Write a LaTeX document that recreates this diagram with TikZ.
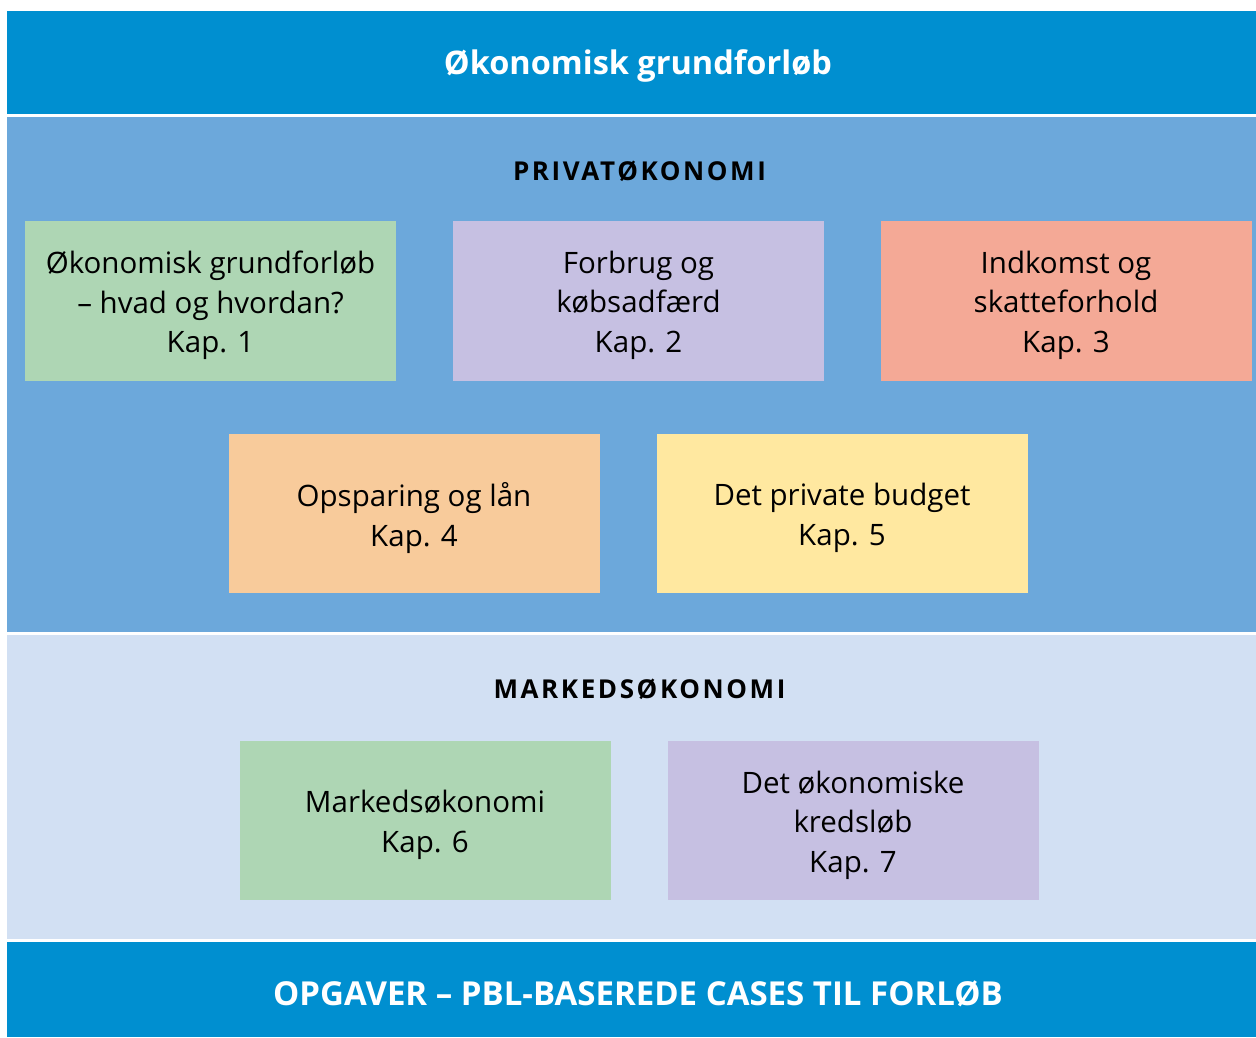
\documentclass[tikz,border=0pt]{standalone}
\usepackage{fontspec}
\setmainfont{Open Sans}
\newfontfamily\spacedfont[LetterSpace=10]{Open Sans}
\definecolor{topblue}{HTML}{008FD0}
\definecolor{privblue}{HTML}{6CA8DB}
\definecolor{markblue}{HTML}{D2E0F3}
\definecolor{bgreen}{HTML}{AED6B4}
\definecolor{bpurple}{HTML}{C6C0E2}
\definecolor{bsalmon}{HTML}{F4A996}
\definecolor{borange}{HTML}{F8CB9B}
\definecolor{byellow}{HTML}{FFE8A0}
\tikzset{
  chapbox/.style={minimum width=371pt,minimum height=159.5pt,inner sep=0pt},
  chaptext/.style={inner sep=0pt,align=center,yshift=-4.5pt,
    font=\fontsize{29.5}{39.5}\selectfont,text=black},
  bandtitle/.style={text=white,font=\bfseries\fontsize{32.5}{36}\selectfont},
  sectitle/.style={text=black,font=\spacedfont\bfseries\fontsize{26}{30}\selectfont}
}
\begin{document}
\begin{tikzpicture}[x=1pt,y=-1pt]
\useasboundingbox (0,0) rectangle (1256,1037);
\fill[white] (0,0) rectangle (1256,1037);
\fill[topblue] (7,11) rectangle (1256,113.5);
\fill[privblue] (7,116.5) rectangle (1256,632);
\fill[markblue] (7,635) rectangle (1256,938.5);
\fill[topblue] (7,941.5) rectangle (1256,1037);
\node[bandtitle] (title) at (638,66) {Økonomisk grundforløb};
\node[sectitle] (priv) at (639.5,171) {PRIVATØKONOMI};
\node[chapbox,fill=bgreen,label={[chaptext]center:{Økonomisk grundforløb\\– hvad og hvordan?\\Kap. 1}}] (k1) at (210.5,300.75) {};
\node[chapbox,fill=bpurple,label={[chaptext]center:{Forbrug og\\købsadfærd\\Kap. 2}}] (k2) at (638.5,300.75) {};
\node[chapbox,fill=bsalmon,label={[chaptext]center:{Indkomst og\\skatteforhold\\Kap. 3}}] (k3) at (1066,300.75) {};
\node[chapbox,fill=borange,label={[chaptext]center:{Opsparing og lån\\Kap. 4}}] (k4) at (414,513.5) {};
\node[chapbox,fill=byellow,label={[chaptext]center:{Det private budget\\Kap. 5}}] (k5) at (842,513.5) {};
\node[sectitle] (mark) at (639.5,689) {MARKEDSØKONOMI};
\node[chapbox,fill=bgreen,label={[chaptext]center:{Markedsøkonomi\\Kap. 6}}] (k6) at (425,820.5) {};
\node[chapbox,fill=bpurple,label={[chaptext]center:{Det økonomiske\\kredsløb\\Kap. 7}}] (k7) at (853,820.5) {};
\node[bandtitle,font=\bfseries\fontsize{33}{36}\selectfont] (opg) at (638,994) {OPGAVER – PBL-BASEREDE CASES TIL FORLØB};
\end{tikzpicture}
\end{document}
